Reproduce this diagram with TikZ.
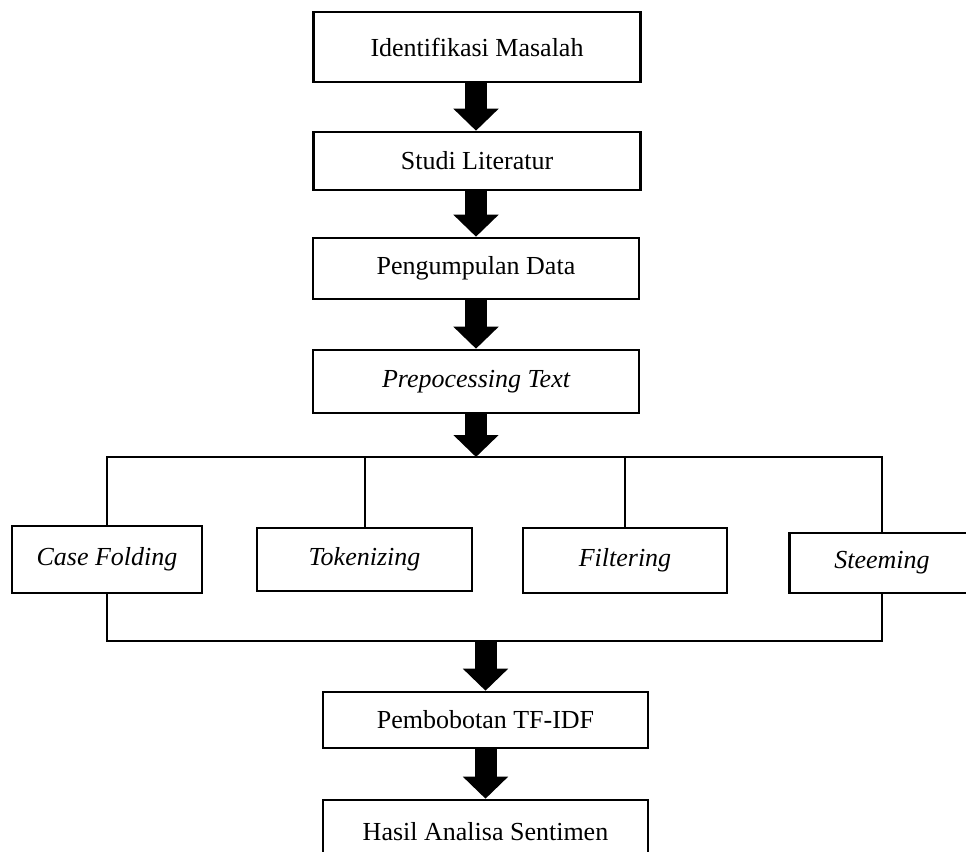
\documentclass[tikz,border=0pt]{standalone}
\usepackage{fontspec}
\setmainfont{Liberation Serif}
\usetikzlibrary{arrows.meta}
\tikzset{
    kotak/.style = {draw, line width = 1.3pt, inner sep = 0pt, font = \fontsize{13}{15}\selectfont},
    garis/.style = {line width = 1pt},
    panah/.style = {line width = 11pt, -{Triangle[width = 22pt, length = 11pt]}}
}

\begin{document}
\begin{tikzpicture}[x = 0.5pt, y = -0.5pt]
    % Batas gambar
    \useasboundingbox (0,0) rectangle (966,852);
    % Tahapan awal
    \node[kotak, minimum width = 163.5pt, minimum height = 35pt] (idm) at (477,47) {Identifikasi Masalah};
    \node[kotak, minimum width = 163.5pt, minimum height = 29pt] (studi) at (477,161) {Studi Literatur};
    \node[kotak, minimum width = 163pt, minimum height = 30.5pt] (kumpul) at (476,268.5) {Pengumpulan Data};
    \node[kotak, minimum width = 163pt, minimum height = 31.5pt] (prepro) at (476,381.5) {\itshape Prepocessing Text};
    % Tahap prepocessing
    \node[kotak, minimum width = 95pt, minimum height = 33.5pt] (casef) at (107,559.5) {\itshape Case Folding};
    \node[kotak, minimum width = 107.5pt, minimum height = 31.5pt] (token) at (364.5,559.5) {\itshape Tokenizing};
    \node[kotak, minimum width = 102pt, minimum height = 32.5pt] (filter) at (625,560.5) {\itshape Filtering};
    \node[kotak, minimum width = 92.5pt, minimum height = 30pt] (steem) at (882,563) {\itshape Steeming};
    % Tahapan akhir
    \node[kotak, minimum width = 162.5pt, minimum height = 28pt] (tfidf) at (485.5,720) {Pembobotan TF-IDF};
    \node[kotak, minimum width = 162.5pt, minimum height = 32pt] (hasil) at (485.5,832) {Hasil Analisa Sentimen};
    % Garis cabang
    \coordinate (atas) at (0,457);
    \coordinate (bawah) at (0,641);
    \draw[garis] (casef.north) -- (casef.north |- atas) -- (steem.north |- atas) -- (steem.north);
    \draw[garis] (token.north) -- (token.north |- atas);
    \draw[garis] (filter.north) -- (filter.north |- atas);
    \draw[garis] (casef.south) -- (casef.south |- bawah) -- (steem.south |- bawah) -- (steem.south);
    % Panah
    \draw[panah] (idm.south -| kumpul.north) -- (studi.north -| kumpul.north);
    \draw[panah] (studi.south -| kumpul.north) -- (kumpul.north);
    \draw[panah] (kumpul.south) -- (prepro.north);
    \draw[panah] (prepro.south) -- (prepro.south |- atas);
    \draw[panah] (tfidf.north |- bawah) -- (tfidf.north);
    \draw[panah] (tfidf.south) -- (hasil.north);
\end{tikzpicture}
\end{document}
